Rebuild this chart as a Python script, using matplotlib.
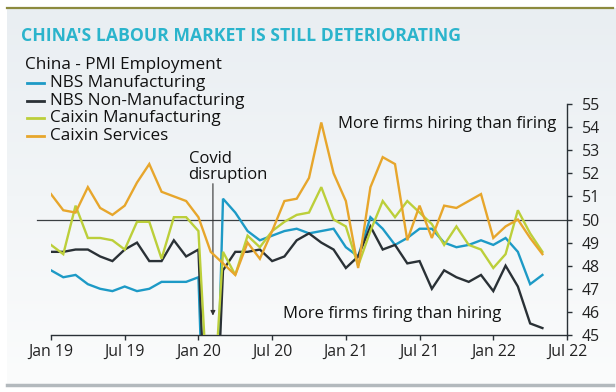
import matplotlib
matplotlib.use("Agg")
import matplotlib.pyplot as plt
import numpy as np
from matplotlib.lines import Line2D
from matplotlib.colors import LinearSegmentedColormap

# ---------------- data (monthly, Jan 2019 .. May 2022) ----------------
months = np.arange(41)
nbs_mfg = [47.8, 47.5, 47.6, 47.2, 47.0, 46.9, 47.1, 46.9, 47.0, 47.3, 47.3, 47.3,
           47.5, 31.8, 50.9, 50.3, 49.5, 49.1, 49.3, 49.5, 49.6, 49.4, 49.5, 49.6,
           48.8, 48.4, 50.1, 49.6, 48.9, 49.2, 49.6, 49.6, 49.0, 48.8, 48.9, 49.1,
           48.9, 49.2, 48.6, 47.2, 47.6]
nbs_nonmfg = [48.6, 48.6, 48.7, 48.7, 48.4, 48.2, 48.7, 49.0, 48.2, 48.2, 49.1, 48.4,
              48.7, 35.0, 47.8, 48.6, 48.6, 48.7, 48.2, 48.4, 49.1, 49.4, 49.0, 48.7,
              47.9, 48.4, 49.7, 48.7, 48.9, 48.1, 48.2, 47.0, 47.8, 47.5, 47.3, 47.6,
              46.9, 48.0, 47.1, 45.5, 45.3]
caixin_mfg = [48.9, 48.5, 50.6, 49.2, 49.2, 49.1, 48.7, 49.9, 49.9, 48.3, 50.1, 50.1,
              49.5, 40.0, 48.6, 47.6, 49.3, 48.8, 49.5, 49.9, 50.2, 50.3, 51.4, 50.0,
              49.7, 48.0, 49.5, 50.8, 50.1, 50.8, 50.3, 49.8, 48.9, 49.7, 48.9, 48.7,
              47.9, 48.5, 50.4, 49.4, 48.6]
caixin_serv = [51.1, 50.4, 50.3, 51.4, 50.5, 50.2, 50.6, 51.6, 52.4, 51.2, 51.0, 50.8,
               50.1, 48.6, 48.1, 47.6, 49.0, 48.3, 49.5, 50.8, 50.9, 51.8, 54.2, 52.0,
               50.8, 47.9, 51.4, 52.7, 52.4, 49.1, 50.6, 49.2, 50.6, 50.5, 50.8, 51.1,
               49.2, 49.7, 50.0, 49.2, 48.5]
series_names = ["NBS Manufacturing", "NBS Non-Manufacturing",
                "Caixin Manufacturing", "Caixin Services"]
tick_months = [0, 6, 12, 18, 24, 30, 36, 42]
tick_labels = ["Jan 19", "Jul 19", "Jan 20", "Jul 20", "Jan 21", "Jul 21", "Jan 22", "Jul 22"]
y_ticks = list(range(45, 56))

colors = ["#1d9ac6", "#2a3136", "#bccf3a", "#e7a62c"]
series = [nbs_mfg, nbs_nonmfg, caixin_mfg, caixin_serv]
dark = "#2a3136"

plt.rcParams['font.family'] = ['Open Sans', 'DejaVu Sans']

fig = plt.figure(figsize=(6.16, 3.92), dpi=100)
fig.patch.set_facecolor("white")

# background panel with soft gradient
bg = fig.add_axes([0.011, 0.018, 0.989, 0.962], zorder=-10)
grad = np.linspace(0, 1, 256).reshape(-1, 1)
cmap = LinearSegmentedColormap.from_list('bg', ['#e9eef2', '#fbfcfc'])
bg.imshow(grad, aspect='auto', cmap=cmap, extent=[0, 1, 0, 1])
bg.axis('off')

# top and bottom rules
fig.add_artist(Line2D([0.011, 0.995], [0.98, 0.98], color="#8c8a3e", lw=1.6, transform=fig.transFigure))
fig.add_artist(Line2D([0.011, 0.995], [0.018, 0.018], color="#b3b9bd", lw=2.5, transform=fig.transFigure))

ax = fig.add_axes([51/616, 1-335/392, (567-51)/616, (335-104)/392])
ax.patch.set_alpha(0)

# reference line at 50
ax.plot([-1.15, 42], [50, 50], color="#3a3f42", lw=0.9, clip_on=False, zorder=1)

for i in [1, 0, 2, 3]:
    ax.plot(months, series[i], color=colors[i], lw=1.7, zorder=2 + i, solid_joinstyle='miter')

ax.set_xlim(0, 42)
ax.set_ylim(45, 55)
ax.set_xticks(tick_months)
ax.set_xticklabels(tick_labels)
ax.set_yticks(y_ticks)
ax.yaxis.tick_right()
for s in ["left", "top"]:
    ax.spines[s].set_visible(False)
for s in ["right", "bottom"]:
    ax.spines[s].set_color(dark)
    ax.spines[s].set_linewidth(1.0)
ax.tick_params(axis='both', direction='out', length=3.5, width=1.0, color=dark,
               labelsize=11.4, labelcolor="#222222")
ax.tick_params(axis='y', pad=7)
ax.tick_params(axis='x', pad=3)

fs_ann = 12.0
fs_leg = 12.3
# annotations
ax.text(41.1, 54.12, "More firms hiring than firing", ha='right', va='center',
        fontsize=fs_ann, color="#111111")
ax.text(18.85, 45.9, "More firms firing than hiring", ha='left', va='center',
        fontsize=fs_ann, color="#111111")
ax.text(11.2, 52.28, "Covid\ndisruption", ha='left', va='center', fontsize=fs_ann,
        color="#111111", linespacing=1.05)
ax.annotate('', xy=(13.18, 45.84), xytext=(13.18, 51.55),
            arrowprops=dict(arrowstyle='-|>', color="#333333", lw=0.8, mutation_scale=7,
                            shrinkA=0, shrinkB=0))

# title
fig.text(21/616, 1-36/392, "CHINA'S LABOUR MARKET IS STILL DETERIORATING", ha='left', va='center',
         fontsize=12.7, fontweight='bold', color="#2bb4cc")

# legend
fig.text(25/616, 1-65/392, "China - PMI Employment", ha='left', va='center', fontsize=fs_leg,
         color="#111111", fontweight='medium')
ys = [83, 101, 118, 136]
for name, c, y in zip(series_names, colors, ys):
    yf = 1 - y/392
    fig.add_artist(Line2D([27/616, 44/616], [yf, yf], color=c, lw=2.0, transform=fig.transFigure))
    fig.text(50/616, yf, name, ha='left', va='center', fontsize=fs_leg, color="#111111")

fig.savefig("out.png", dpi=100, facecolor=fig.get_facecolor())
